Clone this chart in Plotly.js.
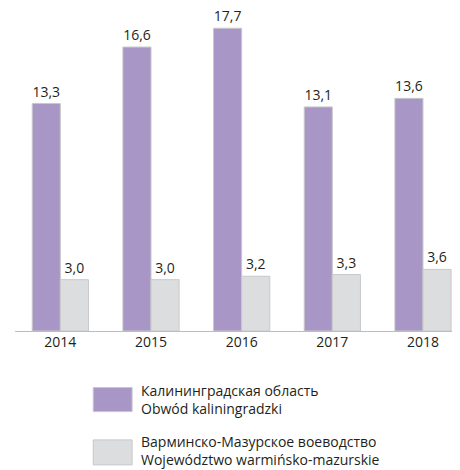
<!DOCTYPE html>
<html>
<head>
<meta charset="utf-8">
<script src="https://cdn.plot.ly/plotly-3.0.1.min.js"></script>
<style>
  body { margin: 0; background: #fff; }
  #chart { width: 460px; height: 470px; }
</style>
</head>
<body>
<div id="chart"></div>
<script>
// data
var years = ['2014', '2015', '2016', '2017', '2018'];
var kaliningrad = [13.3, 16.6, 17.7, 13.1, 13.6];
var warmia = [3.0, 3.0, 3.2, 3.3, 3.6];
var seriesNames = [
    'Калининградская область<br>Obwód kaliningradzki',
    'Варминско-Мазурское воеводство<br>Województwo warmińsko-mazurskie'
];

var purple = '#a897c6';
var grey = '#dcdddf';
var edge = '#c8c8ca';
var ink = '#231f20';
var font = 'Open Sans, sans-serif';

function fmt(v) {
    return v.toFixed(1).replace('.', ',');
}

var trace1 = {
    x: years,
    y: kaliningrad,
    name: seriesNames[0],
    type: 'bar',
    marker: {color: purple, line: {color: edge, width: 1}},
    text: kaliningrad.map(fmt),
    textposition: 'outside',
    cliponaxis: false,
    textfont: {family: font, size: 14, color: ink},
    hoverinfo: 'none'
};

var trace2 = {
    x: years,
    y: warmia,
    name: seriesNames[1],
    type: 'bar',
    marker: {color: grey, line: {color: edge, width: 1}},
    text: warmia.map(fmt),
    textposition: 'outside',
    cliponaxis: false,
    textfont: {family: font, size: 14, color: ink},
    hoverinfo: 'none'
};

// legend drawn by hand so the swatches can be big
var legendShapes = [
    {type: 'rect', xref: 'paper', yref: 'paper', x0: 0.179, x1: 0.268, y0: -0.248, y1: -0.174,
     fillcolor: purple, line: {color: edge, width: 1}},
    {type: 'rect', xref: 'paper', yref: 'paper', x0: 0.179, x1: 0.268, y0: -0.412, y1: -0.335,
     fillcolor: grey, line: {color: edge, width: 1}}
];
var legendNotes = [
    {xref: 'paper', yref: 'paper', x: 0.284, y: -0.212, xanchor: 'left', yanchor: 'middle',
     align: 'left', showarrow: false, text: seriesNames[0],
     font: {family: font, size: 14, color: ink}},
    {xref: 'paper', yref: 'paper', x: 0.284, y: -0.369, xanchor: 'left', yanchor: 'middle',
     align: 'left', showarrow: false, text: seriesNames[1],
     font: {family: font, size: 14, color: ink}}
];

var layout = {
    width: 460,
    height: 470,
    margin: {l: 15, r: 8, t: 6, b: 139},
    barmode: 'group',
    bargap: 0.38,
    bargroupgap: 0,
    showlegend: false,
    paper_bgcolor: '#fff',
    plot_bgcolor: '#fff',
    xaxis: {
        type: 'category',
        range: [-0.5, 4.32],
        showline: true,
        linecolor: '#bdbdbd',
        linewidth: 1,
        ticks: '',
        ticklabelstandoff: -2,
        showgrid: false,
        tickfont: {family: font, size: 14, color: ink}
    },
    yaxis: {
        range: [0, 19],
        visible: false,
        showgrid: false,
        zeroline: false
    },
    shapes: legendShapes,
    annotations: legendNotes
};

Plotly.newPlot('chart', [trace1, trace2], layout, {displayModeBar: false, staticPlot: true});
</script>
</body>
</html>
